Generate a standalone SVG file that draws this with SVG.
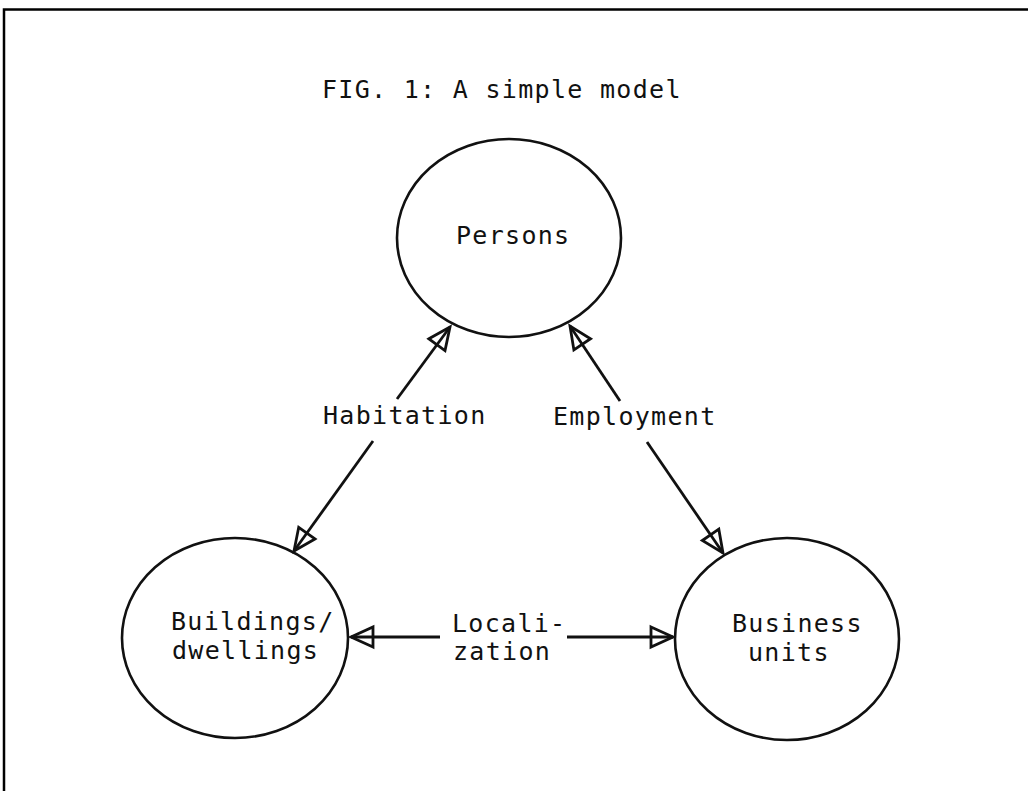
<svg xmlns="http://www.w3.org/2000/svg" width="1028" height="791" viewBox="0 0 1028 791">
<style>
.node{fill:none;stroke:#111;stroke-width:2.6}
.lbl{font-family:"DejaVu Sans Mono","Liberation Mono",monospace;font-size:25px;letter-spacing:1.3px;fill:#111}
.conn line{stroke:#111;stroke-width:2.8;fill:none}
.frame{stroke:#000;stroke-width:2.5;fill:none}
</style>
<defs>
<marker id="tri" markerUnits="userSpaceOnUse" viewBox="-2 -14 28 28" markerWidth="28" markerHeight="28" refX="22" refY="0" orient="auto-start-reverse">
<path d="M0,-10 L22,0 L0,10 Z" fill="none" stroke="#111" stroke-width="2.8" stroke-linejoin="miter"/>
</marker>
</defs>
<rect width="1028" height="791" fill="#fff"/>
<path class="frame" d="M4,791 V9.5 H1028"/>
<text class="lbl" x="322" y="98">FIG. 1: A simple model</text>
<g id="persons">
<ellipse class="node" cx="509" cy="238" rx="112" ry="99"/>
<text class="lbl" x="456" y="244">Persons</text>
</g>
<g id="buildings">
<ellipse class="node" cx="235" cy="638" rx="113" ry="100"/>
<text class="lbl" x="171" y="630">Buildings/</text>
<text class="lbl" x="172" y="659">dwellings</text>
</g>
<g id="business">
<ellipse class="node" cx="787" cy="639" rx="112" ry="101"/>
<text class="lbl" x="732" y="632">Business</text>
<text class="lbl" x="748" y="661">units</text>
</g>
<g id="connectors" class="conn">
<line x1="397" y1="399" x2="450" y2="327" marker-end="url(#tri)"/>
<line x1="373" y1="441" x2="294" y2="551" marker-end="url(#tri)"/>
<line x1="620" y1="401" x2="570" y2="326" marker-end="url(#tri)"/>
<line x1="647" y1="442" x2="723" y2="553" marker-end="url(#tri)"/>
<line x1="440" y1="637" x2="351" y2="637" marker-end="url(#tri)"/>
<line x1="567" y1="637" x2="673" y2="637" marker-end="url(#tri)"/>
</g>
<g id="labels">
<text class="lbl" x="323" y="424">Habitation</text>
<text class="lbl" x="553" y="425">Employment</text>
<text class="lbl" x="452" y="632">Locali-</text>
<text class="lbl" x="453" y="660">zation</text>
</g>
</svg>
